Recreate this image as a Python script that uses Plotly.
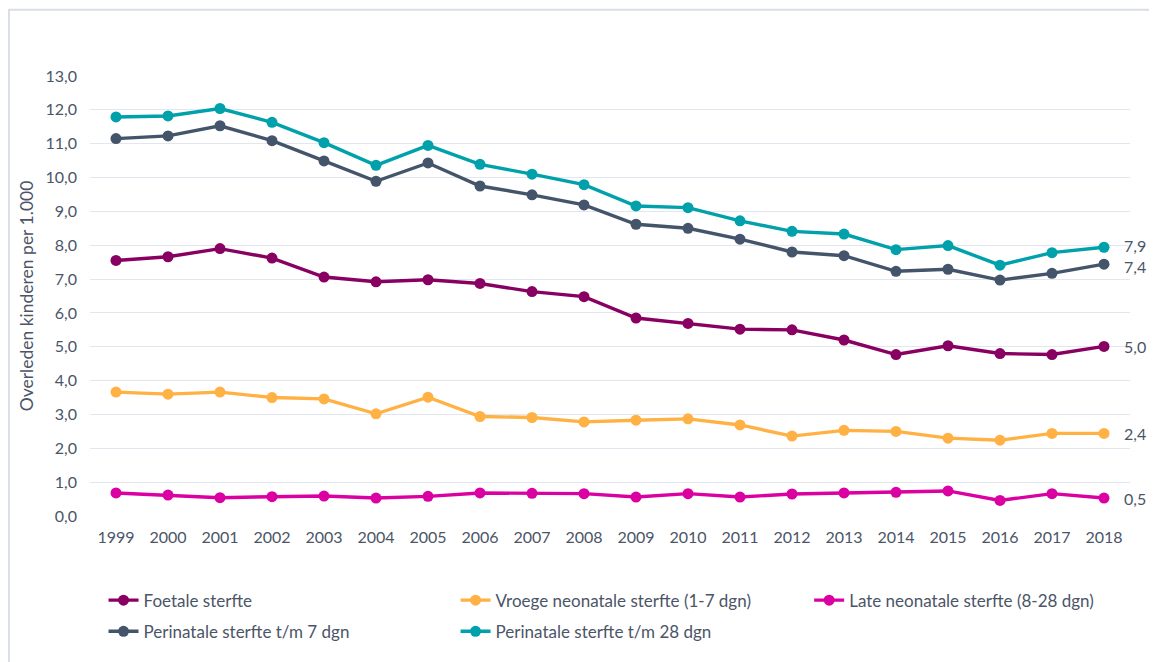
import plotly.graph_objects as go

years = [str(y) for y in range(1999, 2019)]

foetale = [7.55, 7.66, 7.90, 7.62, 7.06, 6.92, 6.98, 6.87, 6.63, 6.48,
           5.85, 5.69, 5.52, 5.50, 5.20, 4.77, 5.03, 4.80, 4.77, 5.01]
vroege = [3.66, 3.60, 3.66, 3.50, 3.46, 3.02, 3.51, 2.94, 2.91, 2.78,
          2.83, 2.87, 2.69, 2.36, 2.53, 2.50, 2.30, 2.24, 2.44, 2.44]
late = [0.68, 0.62, 0.54, 0.57, 0.59, 0.53, 0.58, 0.68, 0.67, 0.66,
        0.56, 0.66, 0.56, 0.65, 0.68, 0.70, 0.74, 0.46, 0.66, 0.53]
peri7 = [11.15, 11.23, 11.53, 11.09, 10.49, 9.89, 10.43, 9.75, 9.49, 9.19,
         8.62, 8.50, 8.18, 7.80, 7.69, 7.23, 7.29, 6.97, 7.17, 7.44]
peri28 = [11.79, 11.82, 12.04, 11.63, 11.03, 10.36, 10.95, 10.39, 10.10, 9.79,
          9.16, 9.11, 8.72, 8.41, 8.33, 7.87, 7.99, 7.41, 7.78, 7.94]

# (name, values, colour, legend column, end-label nudge in px)
series = [
    ("Foetale sterfte", foetale, "#870062", "legend", 0),
    ("Vroege neonatale sterfte (1-7 dgn)", vroege, "#FFB144", "legend2", 0),
    ("Late neonatale sterfte (8-28 dgn)", late, "#DA00A1", "legend3", 0),
    ("Perinatale sterfte t/m 7 dgn", peri7, "#44546A", "legend", -2),
    ("Perinatale sterfte t/m 28 dgn", peri28, "#00A1AB", "legend2", 2),
]

TXT = "#4b5567"
FONT = "Lato"

fig = go.Figure()
for i, (name, vals, col, lg, nudge) in enumerate(series):
    fig.add_trace(go.Scatter(
        x=years, y=vals, name=name, mode="lines+markers",
        line=dict(color=col, width=3.4),
        marker=dict(color=col, size=11),
        legend=lg, legendgroup=f"g{i}",
    ))
    fig.add_annotation(
        x=len(years) - 1, y=vals[-1], xref="x", yref="y",
        text=f"{vals[-1]:.1f}".replace(".", ","),
        showarrow=False, xanchor="left", yanchor="middle", xshift=18, yshift=nudge,
        font=dict(family=FONT, size=16, color=TXT),
    )

# outer chart frame
fig.add_shape(type="rect", xref="paper", yref="paper",
              x0=-0.078, x1=1.2, y0=-0.4, y1=1.1503,
              line=dict(color="#d9dde6", width=2), fillcolor="rgba(0,0,0,0)",
              layer="below")

leg_common = dict(orientation="v", xanchor="left", yanchor="top", y=-0.1514,
                  itemwidth=30, font=dict(size=17, color=TXT),
                  bgcolor="rgba(0,0,0,0)", tracegroupgap=6, traceorder="grouped")

fig.update_layout(
    width=1149, height=654,
    margin=dict(l=82, r=27, t=68, b=137),
    paper_bgcolor="white", plot_bgcolor="white",
    separators=",.",
    font=dict(family=FONT, size=16, color=TXT),
    xaxis=dict(type="category", range=[-0.5, len(years) - 0.5],
               showgrid=False, zeroline=False, showline=False,
               ticks="", tickfont=dict(size=16, color=TXT), ticklabelstandoff=10),
    yaxis=dict(range=[0, 13], dtick=1, tickformat=".1f", showgrid=True,
               gridcolor="#e3e6ee", gridwidth=1, zeroline=False, showline=False,
               tickfont=dict(size=16, color=TXT), ticklabelstandoff=12,
               title=dict(text="Overleden kinderen per 1.000",
                          font=dict(size=17.5, color=TXT), standoff=7)),
    legend=dict(x=0.0130, **leg_common),
    legend2=dict(x=0.3515, **leg_common),
    legend3=dict(x=0.6915, **leg_common),
)

fig.write_html("out.html")
